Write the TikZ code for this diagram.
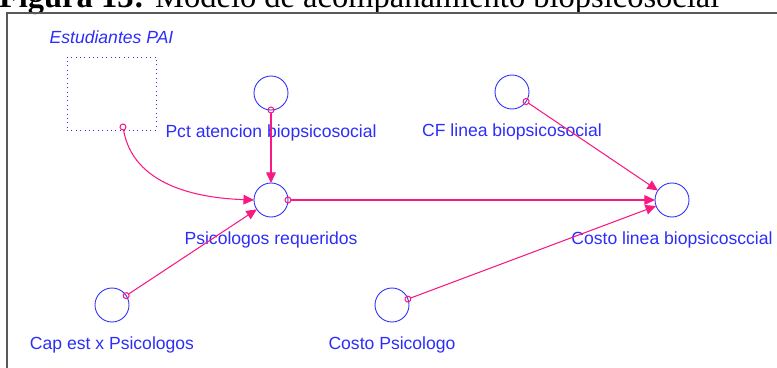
\documentclass[tikz,border=0pt]{standalone}
\usepackage{fontspec}
\setmainfont{Liberation Serif}
\setsansfont{Liberation Sans}
\usepackage{tikz}
\usetikzlibrary{arrows.meta}
\definecolor{vensimblue}{RGB}{45,45,250}
\definecolor{vensimpink}{RGB}{250,25,130}

\begin{document}
\begin{tikzpicture}[x=0.02cm,y=-0.02cm,
  every node/.style={inner sep=0pt,outer sep=0pt},
  aux/.style={circle,draw=vensimblue,line width=0.5pt,minimum size=0.68cm},
  lvl/.style={rectangle,draw=vensimblue,dotted,line width=0.5pt,minimum width=1.78cm,minimum height=1.46cm},
  lbl/.style={font=\sffamily\fontsize{10}{12}\selectfont,text=vensimblue},
  link/.style={vensimpink,line width=0.6pt,shorten <=-2pt,
    {Circle[open,length=4pt,width=4pt]}-{Triangle[length=6pt,width=5.5pt]}}]
\useasboundingbox (0,0) rectangle (777,368);
\node [anchor=base west,font=\fontsize{18.5}{20}\selectfont] (caption) at (-1,8) {\textbf{Figura 13:} Modelo de acompañamiento biopsicosocial};
\draw [black!65,line width=0.8pt] (7,372) -- (7,13) -- (782,13);
\node [lvl] (est) at (111.5,93.5) {};
\node [lbl,font=\sffamily\itshape\fontsize{10}{12}\selectfont,above=0.26cm] at (est.north) {Estudiantes PAI};
\node [aux,label={[lbl,label distance=0.3cm]below:Pct atencion biopsicosocial}] (pct) at (271,93) {};
\node [aux,label={[lbl,label distance=0.3cm]below:Psicologos requeridos}] (psi) at (271,200) {};
\node [aux,label={[lbl,label distance=0.3cm]below:CF linea biopsicosocial}] (cf) at (512,92) {};
\node [aux,label={[lbl,label distance=0.3cm]below:Costo linea biopsicosccial}] (costo) at (672,200) {};
\node [aux,label={[lbl,label distance=0.3cm]below:Cap est x Psicologos}] (cap) at (112,305) {};
\node [aux,label={[lbl,label distance=0.3cm]below:Costo Psicologo}] (cpsi) at (392,305) {};
\draw [link] ([xshift=0.23cm,yshift=0.06cm]est.south) to[out=-80,in=178] (psi.west);
\draw [link] (pct.south) -- (psi.north);
\draw [link] (cap) -- (psi);
\draw [link] (psi.east) -- (costo.west);
\draw [link] (cf) -- (costo);
\draw [link] (cpsi) -- (costo);
\end{tikzpicture}
\end{document}
